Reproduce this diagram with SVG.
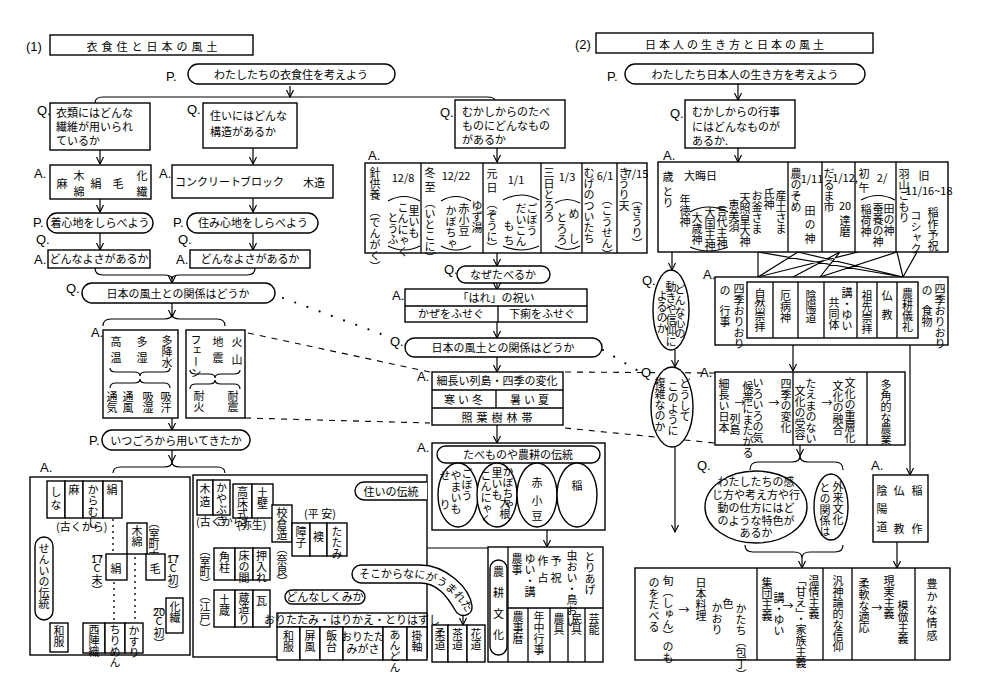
<svg xmlns="http://www.w3.org/2000/svg" width="981" height="700" viewBox="0 0 981 700">
<defs>
<marker id="ah" viewBox="0 0 10 10" refX="9" refY="5" markerWidth="8" markerHeight="8" markerUnits="userSpaceOnUse" orient="auto"><path d="M0,0.5 L9,5 L0,9.5" fill="none" stroke="#000" stroke-width="1.4"/></marker>
<style>
.b{fill:#fff;stroke:#000;stroke-width:1.4}
.n{fill:none;stroke:#000;stroke-width:1.3}
.c{fill:none;stroke:#000;stroke-width:1.2}
.dot{fill:none;stroke:#000;stroke-width:2.2;stroke-linecap:round;stroke-dasharray:0 13}
.dash{fill:none;stroke:#000;stroke-width:1.1;stroke-dasharray:6 6}
text{font-family:"Noto Sans CJK JP","Noto Sans",sans-serif;fill:#000;font-size:11px}
.l{font-family:"Liberation Sans",sans-serif;font-size:13px}
.v{writing-mode:vertical-rl}
.m{text-anchor:middle}
</style>
</defs>
<rect width="981" height="700" fill="#fff"/>

<g id="connectors">
<path class="c" d="M95,103 Q95,97 103,97 H487 Q495,97 495,101"/>
<path class="c" marker-end="url(#ah)" d="M290,86 V97"/>
<path class="c" marker-end="url(#ah)" d="M100,150 V164"/>
<path class="c" marker-end="url(#ah)" d="M253,148 V164"/>
<path class="c" marker-end="url(#ah)" d="M497,148 V162"/>
<path class="c" marker-end="url(#ah)" d="M100,199 V212"/>
<path class="c" marker-end="url(#ah)" d="M253,198 V212"/>
<path class="c" marker-end="url(#ah)" d="M100,233 V250"/>
<path class="c" marker-end="url(#ah)" d="M253,233 V250"/>
<path class="c" d="M95,268 Q95,275 103,275 H164 Q172,275 172,279 Q172,275 180,275 H247 Q255,275 255,268"/>
<path class="c" marker-end="url(#ah)" d="M172,276 V283"/>
<path class="c" marker-end="url(#ah)" d="M172,303 V317"/>
<path class="c" d="M103,326 Q103,319 111,319 H164 Q172,319 172,314 Q172,319 180,319 H217 Q225,319 225,326"/>
<path class="c" marker-end="url(#ah)" d="M172,418 V430"/>
<path class="c" marker-end="url(#ah)" d="M172,450 V462"/>
<path class="c" d="M113,473 Q113,467 121,467 H164 Q172,467 172,462 Q172,467 180,467 H217 Q225,467 225,473"/>
<path class="dot" d="M283,298 L392,338"/>
<path class="dot" d="M603,350 L640,372"/>
<path class="dash" d="M248,333 L430,372"/>
<path class="dash" d="M565,372 L715,373"/>
<path class="dash" d="M245,418 L430,423"/>
<path class="dash" d="M565,428 L715,443"/>
<path class="c" marker-end="url(#ah)" d="M497,253 V266"/>
<path class="c" marker-end="url(#ah)" d="M497,283 V290"/>
<path class="c" marker-end="url(#ah)" d="M497,322 V338"/>
<path class="c" marker-end="url(#ah)" d="M497,357 V372"/>
<path class="c" marker-end="url(#ah)" d="M497,425 V443"/>
<path class="c" marker-end="url(#ah)" d="M547,530 V547"/>
<path class="c" marker-end="url(#ah)" d="M488,548 H350"/>
<path class="c" marker-end="url(#ah)" d="M337,556 V590"/>
<path class="c" d="M343,556 V574 H353"/>
<path class="c" marker-end="url(#ah)" d="M463,612 V625"/>
<path class="c" marker-end="url(#ah)" d="M335,604 V613"/>
<path class="c" marker-end="url(#ah)" d="M557,598 V609"/>
<path class="c" marker-end="url(#ah)" d="M738,84 V100"/>
<path class="c" marker-end="url(#ah)" d="M738,148 V162"/>
<path class="c" marker-end="url(#ah)" d="M672,252 V270"/>
<path class="c" d="M758,252 L758,277 M758,252 L903,277 M798,252 L758,277 M798,252 L903,277 M840,252 L793,277 M858,252 L758,277 M897,252 L820,277 M917,252 L903,277 M897,252 L903,277 M840,252 L820,277"/>
<path class="c" marker-end="url(#ah)" d="M675,350 V367"/>
<path class="c" marker-end="url(#ah)" d="M793,345 V371"/>
<path class="c" marker-end="url(#ah)" d="M910,345 V475"/>
<path class="c" marker-end="url(#ah)" d="M800,445 V456"/>
<path class="c" d="M750,470 Q750,462 758,462 H792 Q800,462 800,456 Q800,462 808,462 H835 Q843,462 843,470"/>
<path class="c" marker-end="url(#ah)" d="M675,447 V532"/>
<path class="c" d="M745,545 Q745,552 753,552 H794 Q802,552 802,558 Q802,552 810,552 H835 Q843,552 843,545"/>
<path class="c" marker-end="url(#ah)" d="M802,558 V568"/>
<path class="c" marker-end="url(#ah)" d="M897,542 V568"/>
</g>

<g id="title1">
<text x="26" y="51" class="l" font-size="12">(1)</text>
<rect class="b" x="50" y="35" width="203" height="20"/>
<text x="154" y="51" class="m" font-size="16" letter-spacing="4">衣食住と日本の風土</text>
</g>
<g id="p-ishokuju">
<text x="166" y="81" class="l" font-size="15">P.</text>
<rect class="b" x="188" y="64" width="207" height="20" rx="10"/>
<text x="291" y="79" class="m" font-size="13">わたしたちの衣食住を考えよう</text>
</g>
<g id="q-iryou">
<text x="37" y="115" class="l">Q.</text>
<rect class="b" x="50" y="103" width="100" height="47"/>
<text x="56" y="117" font-size="12">衣類にはどんな</text>
<text x="56" y="131" font-size="12">繊維が用いられ</text>
<text x="56" y="145" font-size="12">ているか</text>
</g>
<g id="q-sumai">
<text x="187" y="114" class="l">Q.</text>
<rect class="b" x="203" y="103" width="94" height="45"/>
<text x="210" y="120" font-size="12">住いにはどんな</text>
<text x="210" y="136" font-size="12">構造があるか</text>
</g>
<g id="q-tabemono">
<text x="440" y="117" class="l">Q.</text>
<rect class="b" x="455" y="100" width="110" height="48"/>
<text x="462" y="116" font-size="12">むかしからのたべ</text>
<text x="462" y="130" font-size="12">ものにどんなもの</text>
<text x="462" y="144" font-size="12">があるか</text>
</g>
<g id="a-sen-i">
<text x="34" y="178" class="l" font-size="15">A.</text>
<rect class="b" x="50" y="165" width="101" height="34"/>
<text x="62" y="188" class="m" font-size="14">麻</text>
<text x="79" y="180" class="m" font-size="13">木</text>
<text x="79" y="196" class="m" font-size="13">綿</text>
<text x="96" y="188" class="m" font-size="14">絹</text>
<text x="118" y="188" class="m" font-size="14">毛</text>
<text x="142" y="180" class="m" font-size="13">化</text>
<text x="142" y="196" class="m" font-size="13">繊</text>
</g>
<g id="a-kouzou">
<text x="159" y="178" class="l" font-size="15">A.</text>
<rect class="b" x="172" y="165" width="161" height="33"/>
<text x="175" y="186" font-size="8.5">コンクリート</text>
<text x="240" y="186" font-size="12">ブロック</text>
<text x="303" y="187" font-size="13">木造</text>
</g>
<g id="p-kigokochi">
<text x="33" y="227" class="l" font-size="14">P.</text>
<rect class="b" x="47" y="213" width="106" height="20" rx="10"/>
<text x="100" y="227" class="m" font-size="10.8">着心地をしらべよう</text>
</g>
<g id="p-sumigokochi">
<text x="173" y="227" class="l" font-size="14">P.</text>
<rect class="b" x="187" y="213" width="131" height="20" rx="10"/>
<text x="253" y="227" class="m" font-size="12">住み心地をしらべよう</text>
</g>
<g id="qa-yosa1">
<text x="36" y="244" class="l" font-size="9">Q.</text>
<text x="34" y="264" class="l" font-size="11">A.</text>
<rect class="b" x="48" y="250" width="102" height="18"/>
<text x="99" y="263" class="m" font-size="10.5">どんなよさがあるか</text>
</g>
<g id="qa-yosa2">
<text x="178" y="244" class="l" font-size="9">Q.</text>
<text x="176" y="264" class="l" font-size="11">A.</text>
<rect class="b" x="190" y="250" width="120" height="18"/>
<text x="250" y="263" class="m" font-size="12">どんなよさがあるか</text>
</g>
<g id="q-fudo1">
<text x="66" y="293" class="l" font-size="10">Q.</text>
<rect class="b" x="82" y="283" width="193" height="20" rx="10"/>
<text x="178" y="298" class="m" font-size="12.5">日本の風土との関係はどうか</text>
</g>
<g id="a-kikou">
<text x="91" y="337" class="l" font-size="14">A.</text>
<rect class="b" x="103" y="330" width="75" height="88"/>
<text class="v" x="116" y="336" font-size="12" letter-spacing="5">高温</text>
<text class="v" x="142" y="336" font-size="12" letter-spacing="5">多湿</text>
<text class="v" x="167" y="335" font-size="10.5">多降水</text>
<path class="c" d="M110,368 Q110,372 116,372 H134 Q140,372 140,376 Q140,372 146,372 H164 Q170,372 170,368"/>
<path class="c" d="M110,388 Q110,383 116,383 H134 Q140,383 140,379 Q140,383 146,383 H164 Q170,383 170,388"/>
<text class="v" x="112" y="391" font-size="11">通気</text>
<text class="v" x="128" y="391" font-size="11">通風</text>
<text class="v" x="148" y="391" font-size="11">吸湿</text>
<text class="v" x="166" y="391" font-size="11">吸汗</text>
</g>
<g id="a-saigai">
<rect class="b" x="186" y="330" width="59" height="88"/>
<text class="v" x="196" y="334" font-size="9.5">フェーン</text>
<text class="v" x="218" y="336" font-size="12" letter-spacing="5">地震</text>
<text class="v" x="237" y="336" font-size="11" letter-spacing="7">火山</text>
<path class="c" d="M190,370 Q190,374 196,374 H209 Q215,374 215,378 Q215,374 221,374 H234 Q240,374 240,370"/>
<path class="c" d="M190,389 Q190,384 196,384 H209 Q215,384 215,380 Q215,384 221,384 H234 Q240,384 240,389"/>
<text class="v" x="199" y="390" font-size="12.5">耐火</text>
<text class="v" x="233" y="390" font-size="12.5">耐震</text>
</g>
<g id="p-itsugoro">
<text x="89" y="445" class="l" font-size="14">P.</text>
<rect class="b" x="102" y="430" width="148" height="20" rx="10"/>
<text x="176" y="445" class="m" font-size="12">いつごろから用いてきたか</text>
</g>
<g id="a-sen-i-rekishi">
<text x="40" y="472" class="l" font-size="14">A.</text>
<rect class="b" x="30" y="477" width="160" height="178"/>
<path class="dot" style="stroke-width:1.8;stroke-dasharray:0 6" d="M113,520 V553 M114,583 V620 M135,558 V620"/>
<rect class="b" x="47" y="481" width="18" height="37"/>
<text class="v" x="56" y="486" font-size="12" letter-spacing="2">しな</text>
<rect class="b" x="65" y="481" width="18" height="37"/>
<text class="v" x="74" y="484" font-size="15">麻</text>
<rect class="b" x="83" y="481" width="20" height="37"/>
<text class="v" x="93" y="484" font-size="8">からむし</text>
<rect class="b" x="103" y="481" width="19" height="37"/>
<text class="v" x="112" y="484" font-size="15">絹</text>
<text x="56" y="531" font-size="10">(古くから)</text>
<rect class="b" x="127" y="523" width="20" height="31"/>
<text class="v" x="137" y="525" font-size="13">木綿</text>
<text class="v" x="154" y="517" font-size="8.5">（室町末）</text>
<rect class="b" x="106" y="554" width="21" height="26"/>
<text x="116" y="573" class="m" font-size="15">絹</text>
<rect class="b" x="146" y="554" width="19" height="26"/>
<text x="155" y="573" class="m" font-size="14">毛</text>
<text class="v" x="97" y="547" font-size="8">（</text>
<text x="97" y="563" class="m" font-size="8">17</text>
<text x="97" y="572" class="m" font-size="8">C</text>
<text class="v" x="97" y="574" font-size="8">末）</text>
<text class="v" x="173" y="547" font-size="8">（</text>
<text x="173" y="563" class="m" font-size="8">17</text>
<text x="173" y="572" class="m" font-size="8">C</text>
<text class="v" x="173" y="574" font-size="8">初）</text>
<text class="v" x="159" y="600" font-size="8">（</text>
<text x="159" y="616" class="m" font-size="8">20</text>
<text x="159" y="625" class="m" font-size="8">C</text>
<text class="v" x="159" y="627" font-size="8">初）</text>
<rect class="b" x="166" y="598" width="17" height="35"/>
<text class="v" x="175" y="601" font-size="13">化繊</text>
<rect class="b" x="35" y="537" width="18" height="83" rx="9"/>
<text class="v" x="44" y="543" font-size="11.5">せんいの伝統</text>
<rect class="b" x="50" y="623" width="18" height="29"/>
<text class="v" x="59" y="625" font-size="12">和服</text>
<rect class="b" x="83" y="623" width="22" height="30"/>
<text class="v" x="94" y="624" font-size="9.5">西陣織</text>
<rect class="b" x="105" y="623" width="20" height="30"/>
<text class="v" x="115" y="624" font-size="7.5">ちりめん</text>
<rect class="b" x="125" y="623" width="18" height="30"/>
<text class="v" x="134" y="625" font-size="9">かすり</text>
</g>
<g id="a-sumai-rekishi">
<rect class="b" x="193" y="475" width="234" height="182"/>
<rect class="b" x="197" y="480" width="16" height="35"/>
<text class="v" x="205" y="483" font-size="13" letter-spacing="2">木造</text>
<rect class="b" x="213" y="480" width="17" height="35"/>
<text class="v" x="221.5" y="482" font-size="7.5">かやぶき</text>
<text x="196" y="526" font-size="7">(古くから)</text>
<rect class="b" x="233" y="484" width="19" height="34"/>
<text class="v" x="242.5" y="486" font-size="9.5">高床式</text>
<rect class="b" x="252" y="484" width="21" height="34"/>
<text class="v" x="262.5" y="487" font-size="13">土壁</text>
<text x="237" y="529" font-size="9">(弥生)</text>
<rect class="b" x="272" y="505" width="20" height="37"/>
<text class="v" x="282" y="507" font-size="10.5">校倉造</text>
<text class="v" x="282" y="543" font-size="7">（奈良）</text>
<text x="304" y="518" font-size="10">(平 安)</text>
<rect class="b" x="292" y="523" width="18" height="33"/>
<text class="v" x="301" y="526" font-size="12">障子</text>
<rect class="b" x="310" y="523" width="17" height="33"/>
<text x="318.5" y="541" class="m" font-size="13">襖</text>
<rect class="b" x="327" y="523" width="20" height="33"/>
<text class="v" x="337" y="526" font-size="10">たたみ</text>
<text class="v" x="205" y="545" font-size="10">（室町）</text>
<rect class="b" x="214" y="548" width="21" height="32"/>
<text class="v" x="224.5" y="551" font-size="12">角柱</text>
<rect class="b" x="235" y="548" width="18" height="32"/>
<text class="v" x="244" y="550" font-size="9.5">床の間</text>
<rect class="b" x="253" y="548" width="17" height="32"/>
<text class="v" x="261.5" y="550" font-size="9.5">押入れ</text>
<text class="v" x="205" y="590" font-size="10">（江戸）</text>
<rect class="b" x="214" y="590" width="21" height="37"/>
<text class="v" x="224.5" y="594" font-size="13">土蔵</text>
<rect class="b" x="235" y="590" width="18" height="37"/>
<text class="v" x="244" y="592" font-size="10">蔵造り</text>
<rect class="b" x="253" y="590" width="17" height="37"/>
<text x="261.5" y="605" class="m" font-size="12">瓦</text>
<path class="b" d="M427,482 H364 A9,9 0 0 0 364,500 H427"/>
<text x="391" y="496" class="m" font-size="11.5">住いの伝統</text>
</g>
<g id="p-shikumi">
<rect class="b" x="285" y="590" width="80" height="14" rx="7"/>
<text x="325" y="601" class="m" font-size="10.5">どんなしくみか</text>
</g>
<g id="a-shikumi">
<rect class="b" x="277" y="613" width="150" height="14"/>
<text x="352" y="624" class="m" font-size="9.2">おりたたみ・はりかえ・とりはずし</text>
<rect class="b" x="277" y="627" width="23" height="33"/>
<text class="v" x="288.5" y="630" font-size="12">和服</text>
<rect class="b" x="300" y="627" width="20" height="33"/>
<text class="v" x="310" y="630" font-size="12">屏風</text>
<rect class="b" x="320" y="627" width="23" height="33"/>
<text class="v" x="331.5" y="630" font-size="12">飯台</text>
<rect class="b" x="343" y="627" width="40" height="33"/>
<text x="363" y="641" class="m" font-size="9">おりたた</text>
<text x="363" y="653" class="m" font-size="9">みがさ</text>
<rect class="b" x="383" y="627" width="24" height="33"/>
<text class="v" x="395" y="629" font-size="7.5">あんどん</text>
<rect class="b" x="407" y="627" width="20" height="33"/>
<text class="v" x="417" y="630" font-size="12">掛軸</text>
</g>
<g id="p-sokokara">
<path class="b" d="M361,565 L420,565 C446,565 470,588 472,606 C473,616 460,619 455,610 C447,596 437,583 420,583 L361,583 A9,9 0 0 1 361,565 Z"/>
<path id="sokoText" fill="none" d="M359,578 L416,578 C436,579 454,592 466,612"/>
<text font-size="9"><textPath href="#sokoText">そこからなにがうまれたか</textPath></text>
</g>
<g id="a-michi">
<rect class="b" x="432" y="625" width="16" height="37"/>
<text class="v" x="440" y="628" font-size="12">柔道</text>
<rect class="b" x="448" y="625" width="19" height="37"/>
<text class="v" x="457.5" y="628" font-size="12">茶道</text>
<rect class="b" x="467" y="625" width="18" height="37"/>
<text class="v" x="476" y="628" font-size="12">花道</text>
</g>
<g id="a-noukou-bunka">
<rect class="b" x="488" y="547" width="115" height="115"/>
<path class="n" d="M508,547 V662 M508,608 H603 M528,608 V662 M550,608 V662 M568,608 V662 M585,608 V662"/>
<rect class="b" x="490" y="560" width="17" height="95" rx="8.5"/>
<text class="v" x="498.5" y="566" font-size="12" letter-spacing="10">農耕文化</text>
<text class="v" x="517" y="553" font-size="11">農事</text>
<text class="v" x="530" y="553" font-size="10">ゆい・講</text>
<text class="v" x="543" y="555" font-size="11" letter-spacing="6">作占</text>
<text class="v" x="556" y="555" font-size="11" letter-spacing="6">予祝</text>
<text class="v" x="572" y="550" font-size="7.5">虫おい・鳥おい</text>
<text class="v" x="590" y="551" font-size="9.5">とりあげ</text>
<text class="v" x="518" y="611" font-size="10">農事暦</text>
<text class="v" x="539" y="611" font-size="10">年中行事</text>
<text class="v" x="559" y="613" font-size="12">農具</text>
<text class="v" x="576.5" y="613" font-size="12">民具</text>
<text class="v" x="594" y="613" font-size="12">芸能</text>
</g>
<g id="a-food-table">
<text x="368" y="160" class="l" font-size="14">A.</text>
<rect class="b" x="365" y="163" width="282" height="90"/>
<path class="n" d="M421,163 V253 M483,163 V253 M541,163 V253 M582,163 V253 M617,163 V253"/>
<text class="v" x="375" y="167" font-size="12.5">針供養</text>
<text class="v" x="375" y="206" font-size="7.5">（でんがく）</text>
<text x="403" y="182" class="m" font-size="11">12/8</text>
<path class="c" d="M388,201 Q404,192 420,201 M388,246 Q404,254 420,246"/>
<text class="v" x="414" y="205" font-size="10">里いも</text>
<text class="v" x="403" y="202" font-size="8">こんにゃく</text>
<text class="v" x="393" y="212" font-size="9">とうふ</text>
<text class="v" x="430" y="167" font-size="12" letter-spacing="3">冬至</text>
<text class="v" x="430" y="197" font-size="9">（いとこに）</text>
<text x="456" y="180" class="m" font-size="11">12/22</text>
<path class="c" d="M441,201 Q456,192 471,201 M441,246 Q456,254 471,246"/>
<text class="v" x="464" y="203" font-size="10">赤小豆</text>
<text class="v" x="451" y="205" font-size="9">かぼちゃ</text>
<text class="v" x="477" y="200" font-size="9.5">ゆず湯</text>
<text class="v" x="492" y="168" font-size="12" letter-spacing="3">元日</text>
<text class="v" x="492" y="198" font-size="9.5">（ぞうに）</text>
<text x="516" y="184" class="m" font-size="14">1/1</text>
<path class="c" d="M503,200 Q521,190 539,200 M503,246 Q521,254 539,246"/>
<text class="v" x="532" y="203" font-size="9.5">ごぼう</text>
<text class="v" x="521" y="203" font-size="9.5">だいこん</text>
<text class="v" x="509" y="220" font-size="9.5" letter-spacing="4">もち</text>
<text class="v" x="549" y="167" font-size="8.5">三日とろろ</text>
<text x="567" y="181" class="m" font-size="12">1/3</text>
<path class="c" d="M555,203 Q567,196 580,203 M555,246 Q567,253 580,246"/>
<text class="v" x="574" y="208" font-size="9.5" letter-spacing="14">めし</text>
<text class="v" x="562" y="212" font-size="9.5">とろろ</text>
<text class="v" x="589" y="167" font-size="8">むげのついたち</text>
<text x="605" y="180" class="m" font-size="11">6/1</text>
<text class="v" x="607" y="194" font-size="8.5">（こうせん）</text>
<text class="v" x="624" y="167" font-size="9">きうり天</text>
<text x="637" y="178" class="m" font-size="8.5">7/15</text>
<text class="v" x="637" y="194" font-size="9.5">（きうり）</text>
</g>
<g id="q-nazetaberu">
<text x="444" y="274" class="l" font-size="10">Q.</text>
<rect class="b" x="457" y="266" width="93" height="17" rx="8.5"/>
<text x="503" y="279" class="m" font-size="11">なぜたべるか</text>
</g>
<g id="a-hare">
<text x="392" y="300" class="l" font-size="14">A.</text>
<rect class="b" x="405" y="289" width="182" height="33"/>
<path class="n" d="M405,306 H587 M498,306 V322"/>
<text x="496" y="302" class="m" font-size="11">「はれ」の祝い</text>
<text x="451" y="318" class="m" font-size="10.5">かぜをふせぐ</text>
<text x="542" y="318" class="m" font-size="10.5">下痢をふせぐ</text>
</g>
<g id="q-fudo2">
<text x="390" y="346" class="l" font-size="10">Q.</text>
<rect class="b" x="405" y="338" width="197" height="19" rx="9.5"/>
<text x="503" y="352" class="m" font-size="12.5">日本の風土との関係はどうか</text>
</g>
<g id="a-rettou">
<text x="417" y="381" class="l" font-size="14">A.</text>
<rect class="b" x="432" y="372" width="131" height="53"/>
<path class="n" d="M432,390 H563 M432,408 H563 M496,390 V408"/>
<text x="497" y="385" class="m" font-size="10.5">細長い列島・四季の変化</text>
<text x="465" y="404" class="m" font-size="12.5" letter-spacing="3">寒い冬</text>
<text x="531" y="404" class="m" font-size="12.5" letter-spacing="3">暑い夏</text>
<text x="499" y="422" class="m" font-size="13" letter-spacing="4">照葉樹林帯</text>
</g>
<g id="a-dentou-food">
<text x="417" y="452" class="l" font-size="14">A.</text>
<rect class="b" x="432" y="443" width="173" height="87"/>
<rect class="b" x="437" y="446" width="163" height="17" rx="8.5"/>
<text x="518" y="459" class="m" font-size="11.5">たべものや農耕の伝統</text>
<ellipse class="b" cx="458" cy="495" rx="20" ry="32"/>
<ellipse class="b" cx="497" cy="495" rx="20" ry="32"/>
<ellipse class="b" cx="537" cy="495" rx="20" ry="32"/>
<ellipse class="b" cx="577" cy="495" rx="20" ry="32"/>
<text class="v" x="467" y="468" font-size="10">ごぼう</text>
<text class="v" x="456" y="470" font-size="10">やまいも</text>
<text class="v" x="445" y="470" font-size="10" letter-spacing="18">せり</text>
<text class="v" x="508" y="466" font-size="8.5">かぼちゃ</text>
<text class="v" x="497" y="467" font-size="9">里いも</text>
<text class="v" x="505" y="497" font-size="11">大根</text>
<text class="v" x="486" y="470" font-size="8">こんにゃく</text>
<text x="537" y="487" class="m" font-size="14">赤</text>
<text class="v" x="537" y="495" font-size="10" letter-spacing="4">小豆</text>
<text x="577" y="490" class="m" font-size="15">稲</text>
</g>

<g id="title2">
<text x="575" y="49" class="l" font-size="12">(2)</text>
<rect class="b" x="596" y="33" width="277" height="20"/>
<text x="736" y="49" class="m" font-size="16" letter-spacing="3">日本人の生き方と日本の風土</text>
</g>
<g id="p-ikikata">
<text x="607" y="81" class="l" font-size="15">P.</text>
<rect class="b" x="625" y="64" width="240" height="20" rx="10"/>
<text x="745" y="79" class="m" font-size="13">わたしたち日本人の生き方を考えよう</text>
</g>
<g id="q-gyouji">
<text x="670" y="118" class="l">Q.</text>
<rect class="b" x="685" y="100" width="110" height="48"/>
<text x="692" y="116" font-size="12">むかしからの行事</text>
<text x="692" y="131" font-size="12">にはどんなものが</text>
<text x="692" y="145" font-size="12">あるか.</text>
</g>
<g id="a-gyouji-table">
<text x="663" y="160" class="l">A.</text>
<rect class="b" x="658" y="162" width="290" height="90"/>
<path class="n" d="M788,162 V252 M822,162 V252 M855,162 V252 M896,162 V252"/>
<text x="668" y="181" class="m" font-size="14">歳</text>
<text class="v" x="668" y="186" font-size="9.5">とり</text>
<text x="684" y="180" font-size="9">大晦日</text>
<text class="v" x="685" y="194" font-size="11">年徳神</text>
<path class="c" d="M690,212 Q708,202 728,212 M690,247 Q708,255 728,247"/>
<text class="v" x="697" y="212" font-size="10">大歳神</text>
<text class="v" x="710" y="207" font-size="9">大国主神</text>
<text class="v" x="722" y="205" font-size="9">言代主神</text>
<text class="v" x="734" y="199" font-size="9.5">恵美須</text>
<text class="v" x="745" y="192" font-size="9.5">天照皇大神</text>
<text class="v" x="757" y="190" font-size="10">お釜さま</text>
<text class="v" x="769" y="188" font-size="10">氏神</text>
<text class="v" x="781" y="190" font-size="9.5">産土さま</text>
<text class="v" x="796" y="168" font-size="10">農のそめ</text>
<text x="812" y="183" class="m" font-size="11">1/11</text>
<text class="v" x="810" y="205" font-size="11" letter-spacing="3">田の神</text>
<text class="v" x="829" y="168" font-size="9.5">だるま市</text>
<text x="845" y="182" class="m" font-size="8.5">1/12,</text>
<text x="845" y="210" class="m" font-size="9">20</text>
<text class="v" x="845" y="215" font-size="11">達磨</text>
<text class="v" x="864" y="168" font-size="11" letter-spacing="3">初午</text>
<text x="882" y="182" class="m" font-size="12">2/</text>
<path class="c" d="M861,200 Q878,191 895,200"/>
<text class="v" x="866" y="204" font-size="10.5">稲荷神</text>
<text class="v" x="878" y="203" font-size="8">蚕養の神</text>
<text class="v" x="889" y="203" font-size="8">田の神</text>
<text class="v" x="904" y="168" font-size="9.5">羽山ごもり</text>
<text x="924" y="180" class="m" font-size="11">旧</text>
<text x="929" y="195" class="m" font-size="7.5">11/16~18</text>
<text class="v" x="916" y="210" font-size="7.5">コシャク</text>
<text class="v" x="933" y="207" font-size="10">稲作予祝</text>
</g>
<g id="q-kokoro">
<text x="642" y="285" class="l" font-size="12">Q.</text>
<ellipse class="b" cx="671" cy="310" rx="18" ry="40"/>
<text class="v" x="680" y="284" font-size="9">どんな心の</text>
<text class="v" x="671" y="281" font-size="9">動きや信仰に</text>
<text class="v" x="662" y="290" font-size="9">よるのか</text>
</g>
<g id="a-shinkou">
<text x="703" y="279" class="l" font-size="13">A.</text>
<rect class="b" x="715" y="277" width="233" height="68"/>
<rect class="b" x="747" y="282" width="171" height="56"/>
<path class="n" d="M773,282 V338 M798,282 V338 M824,282 V338 M857,282 V338 M877,282 V338 M897,282 V338"/>
<text class="v" x="739" y="283" font-size="9.5">四季おりおり</text>
<text class="v" x="725" y="285" font-size="11">の</text>
<text class="v" x="725" y="305" font-size="12">行事</text>
<text class="v" x="760" y="288" font-size="11">自然崇拝</text>
<text class="v" x="785.5" y="290" font-size="12.5">厄病神</text>
<text class="v" x="811" y="290" font-size="12.5">陰陽道</text>
<text class="v" x="847" y="287" font-size="10">講・ゆい</text>
<text class="v" x="834" y="297" font-size="11">共同体</text>
<text class="v" x="867" y="290" font-size="10">祖先崇拝</text>
<text class="v" x="887" y="290" font-size="13" letter-spacing="8">仏教</text>
<text class="v" x="907.5" y="288" font-size="11">農耕儀礼</text>
<text class="v" x="940" y="283" font-size="9.5">四季おりおり</text>
<text class="v" x="927" y="285" font-size="11">の</text>
<text class="v" x="927" y="305" font-size="12">食物</text>
</g>
<g id="q-fukuzatsu">
<text x="641" y="377" class="l" font-size="12">Q</text>
<ellipse class="b" cx="672" cy="407" rx="21" ry="40"/>
<text class="v" x="685" y="378" font-size="9.5">どうして</text>
<text class="v" x="673" y="381" font-size="9.5">このように</text>
<text class="v" x="660" y="377" font-size="10.5">複雑なのか</text>
</g>
<g id="a-bunka">
<text x="700" y="377" class="l" font-size="13">A.</text>
<rect class="b" x="715" y="372" width="190" height="73"/>
<path class="n" d="M793,372 V445 M867,372 V445"/>
<text class="v" x="724" y="378" font-size="9.5">細長い日本</text>
<text class="v" x="735" y="413" font-size="9">列島</text>
<text x="740" y="407" class="m" font-size="11">→</text>
<text class="v" x="758" y="377" font-size="8.5">いろいろの気</text>
<text class="v" x="748" y="381" font-size="8">候帯にまたがる</text>
<text x="774" y="407" class="m" font-size="11">→</text>
<text class="v" x="786" y="378" font-size="10">四季の変化</text>
<text class="v" x="811" y="378" font-size="7.5">たえまのない</text>
<text class="v" x="800" y="385" font-size="10">文化の受容</text>
<text x="827" y="407" class="m" font-size="11">→</text>
<text class="v" x="850" y="377" font-size="9.5">文化の重層化</text>
<text class="v" x="838" y="380" font-size="9.5">文化の融合</text>
<text class="v" x="886" y="379" font-size="10">多角的な農業</text>
</g>
<g id="q-kanjikata">
<text x="697" y="470" class="l" font-size="12">Q.</text>
<ellipse class="b" cx="756" cy="507" rx="51" ry="36"/>
<text x="756" y="486" class="m" font-size="10">わたしたちの感</text>
<text x="756" y="499" class="m" font-size="10">じ方や考え方や行</text>
<text x="756" y="512" class="m" font-size="10">動の仕方にはど</text>
<text x="756" y="525" class="m" font-size="10">のような特色が</text>
<text x="756" y="537" class="m" font-size="10">あるか</text>
</g>
<g id="q-gairai">
<ellipse class="b" cx="831" cy="507" rx="17" ry="33"/>
<text class="v" x="838" y="481" font-size="9.5">外来文化</text>
<text class="v" x="825" y="482" font-size="9.5">との関係は</text>
</g>
<g id="a-gairai">
<text x="871" y="470" class="l" font-size="12">A.</text>
<rect class="b" x="873" y="475" width="55" height="67"/>
<text class="v" x="882" y="485" font-size="13" letter-spacing="7">陰陽道</text>
<text class="v" x="899" y="485" font-size="13" letter-spacing="27">仏教</text>
<text class="v" x="917" y="485" font-size="13" letter-spacing="27">稲作</text>
</g>
<g id="a-tokushoku">
<rect class="b" x="635" y="568" width="315" height="92"/>
<path class="n" d="M757,568 V660 M823,568 V660 M852,568 V660 M915,568 V660"/>
<text class="v" x="668" y="575" font-size="9.5">旬（しゅん）のも</text>
<text class="v" x="654" y="577" font-size="9.5">のをたべる</text>
<text x="684" y="614" class="m" font-size="12">→</text>
<text class="v" x="701" y="577" font-size="11">日本料理</text>
<text class="v" x="717" y="602" font-size="9">かおり</text>
<text class="v" x="728" y="598" font-size="10">色</text>
<text class="v" x="741" y="603" font-size="7">かたち（包丁）</text>
<text class="v" x="767" y="577" font-size="10.5">集団主義</text>
<text class="v" x="779" y="592" font-size="9">講・ゆい</text>
<text x="788" y="610" class="m" font-size="11">→</text>
<text class="v" x="814" y="575" font-size="10">温情主義</text>
<text class="v" x="801" y="575" font-size="8.5">「甘え」・家族主義</text>
<text class="v" x="838" y="575" font-size="10">汎神論的な信仰</text>
<text class="v" x="864" y="578" font-size="11">柔軟な適応</text>
<text x="877" y="612" class="m" font-size="11">→</text>
<text class="v" x="889" y="575" font-size="9.5">現実主義</text>
<text class="v" x="903" y="600" font-size="10">模倣主義</text>
<text class="v" x="932" y="578" font-size="12" letter-spacing="2">豊かな情感</text>
</g>
</svg>
